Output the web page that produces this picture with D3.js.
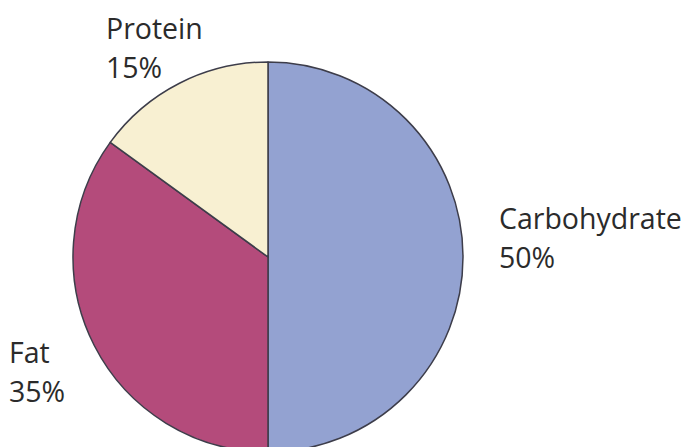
<!DOCTYPE html>
<html>
<head>
<meta charset="utf-8">
<script src="https://cdn.jsdelivr.net/npm/d3@7"></script>
<style>
  body { margin: 0; background: #fff; }
</style>
</head>
<body>
<svg></svg>
<script>
const categories = ['Carbohydrate', 'Fat', 'Protein'];
const values = [50, 35, 15];
const colors = ['#93a2d1', '#b44b7b', '#f8f0d2'];
const labelPos = [[499, 229], [9, 363], [106, 39]];

const svg = d3.select('svg')
	.attr('width', 691)
	.attr('height', 447);

const cx = 268, cy = 257, radius = 195;

const data = categories.map((c, i) => ({ name: c, value: values[i], color: colors[i] }));

const pie = d3.pie()
	.sort(null)
	.value(d => d.value);

const arc = d3.arc()
	.innerRadius(0)
	.outerRadius(radius);

const g = svg.append('g')
	.attr('transform', `translate(${cx}, ${cy})`);

g.selectAll('path')
	.data(pie(data))
	.enter()
	.append('path')
		.attr('d', arc)
		.attr('fill', d => d.data.color)
		.attr('stroke', '#3d3d4a')
		.attr('stroke-width', 1.5)
		.attr('stroke-linejoin', 'round');

const labels = svg.selectAll('text.label')
	.data(data)
	.enter()
	.append('text')
		.attr('class', 'label')
		.attr('x', (d, i) => labelPos[i][0])
		.attr('y', (d, i) => labelPos[i][1])
		.attr('font-family', 'Open Sans, sans-serif')
		.attr('font-size', 28.5)
		.attr('fill', '#2b2b2b');

labels.append('tspan')
	.text(d => d.name);

labels.append('tspan')
	.attr('x', (d, i) => labelPos[i][0])
	.attr('dy', 39)
	.text(d => d.value + '%');
</script>
</body>
</html>
